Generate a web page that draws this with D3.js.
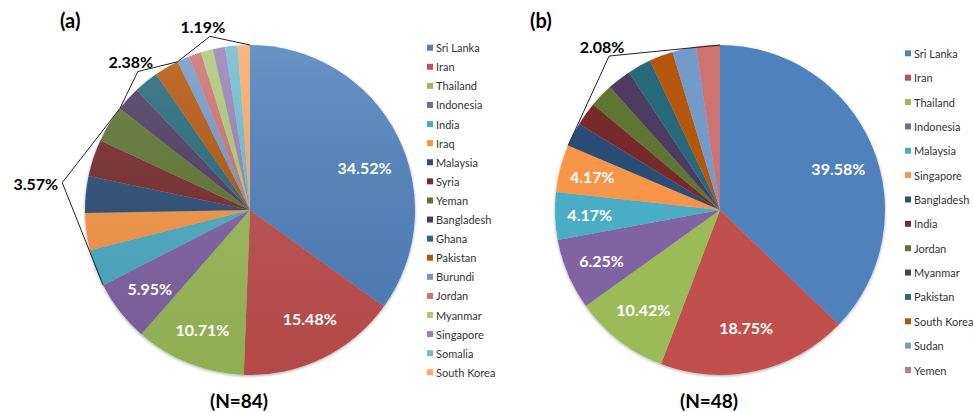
<!DOCTYPE html>
<html>
<head>
<meta charset="utf-8">
<script src="https://cdn.jsdelivr.net/npm/d3@7"></script>
<style>
	body { margin: 0; background: #fff; }
	text { font-family: Lato, "Open Sans", sans-serif; }
</style>
</head>
<body>
<div id="chart-area"></div>
<script>
// ---- data: chart (a), N=84 ----
const countriesA = ["Sri Lanka", "Iran", "Thailand", "Indonesia", "India", "Iraq", "Malaysia", "Syria",
	"Yeman", "Bangladesh", "Ghana", "Pakistan", "Burundi", "Jordan", "Myanmar", "Singapore", "Somalia", "South Korea"];
const countsA = [29, 13, 9, 5, 3, 3, 3, 3, 3, 2, 2, 2, 1, 1, 1, 1, 1, 1];
const insideLabelsA = ["34.52%", "15.48%", "10.71%", "5.95%"];
const groupLabelsA = ["3.57%", "2.38%", "1.19%"];
const groupFirstA = [4, 9, 12];
const groupLastA = [8, 11, 17];

// ---- data: chart (b), N=48 (slice sizes as drawn in the picture) ----
const countriesB = ["Sri Lanka", "Iran", "Thailand", "Indonesia", "Malaysia", "Singapore", "Bangladesh",
	"India", "Jordan", "Myanmar", "Pakistan", "South Korea", "Sudan", "Yemen"];
const slicesB = [16, 8, 4, 3, 2, 2, 1, 1, 1, 1, 1, 1, 1, 1];
const insideLabelsB = ["39.58%", "18.75%", "10.42%", "6.25%", "4.17%", "4.17%"];
const groupLabelsB = ["2.08%"];
const groupFirstB = [6];
const groupLastB = [13];

// office palette
const palette = ["#4F81BD", "#C0504D", "#9BBB59", "#8064A2", "#4BACC6", "#F79646", "#2C4D75", "#772C2A",
	"#5F7530", "#4D3B62", "#276A7C", "#B65708", "#729ACA", "#CD7371", "#AFC97A", "#9983B5", "#6FBDD1", "#F9AB6B"];

const width = 973;
const height = 412;

const svg = d3.select("#chart-area")
	.append("svg")
		.attr("width", width)
		.attr("height", height);

const defs = svg.append("defs");

const shadow = defs.append("filter")
	.attr("id", "shadow")
	.attr("x", "-10%").attr("y", "-10%")
	.attr("width", "120%").attr("height", "120%");
shadow.append("feDropShadow")
	.attr("dx", 0).attr("dy", 1)
	.attr("stdDeviation", 1.6)
	.attr("flood-color", "#000")
	.attr("flood-opacity", 0.35);

const shade = defs.append("linearGradient")
	.attr("id", "shade")
	.attr("x1", 0).attr("y1", 0).attr("x2", 0).attr("y2", 1);
shade.append("stop").attr("offset", "0%").attr("stop-color", "#fff").attr("stop-opacity", 0.14);
shade.append("stop").attr("offset", "100%").attr("stop-color", "#000").attr("stop-opacity", 0.07);

// draw one pie with its legend
const drawPie = (cfg) => {
	const R = cfg.radius;
	const g = svg.append("g")
		.attr("transform", `translate(${cfg.cx}, ${cfg.cy})`);

	const pie = d3.pie().sort(null).value((d) => d);
	const arcs = pie(cfg.values);
	const arc = d3.arc().innerRadius(0).outerRadius(R);

	const slices = g.append("g").attr("filter", "url(#shadow)");
	slices.selectAll("path")
		.data(arcs)
		.enter()
		.append("path")
			.attr("d", arc)
			.attr("fill", (d, i) => palette[i]);

	if (cfg.gradient) {
		g.append("circle")
			.attr("r", R)
			.attr("fill", "url(#shade)");
	}

	// point on a circle of radius r at angle a (clockwise from 12 o'clock)
	const pt = (a, r) => [r * Math.sin(a), -r * Math.cos(a)];
	const labelPos = (i) => pt((arcs[i].startAngle + arcs[i].endAngle) / 2 + cfg.labelShift[i], R * cfg.labelR[i]);

	// white labels inside the big slices
	g.selectAll("text.inside")
		.data(cfg.insideLabels)
		.enter()
		.append("text")
			.attr("class", "inside")
			.attr("x", (d, i) => labelPos(i)[0])
			.attr("y", (d, i) => labelPos(i)[1])
			.attr("text-anchor", "middle")
			.attr("dominant-baseline", "central")
			.attr("fill", "#fff")
			.attr("font-size", "16px")
			.attr("font-weight", "bold")
			.text((d) => d);

	// bracket callouts for groups of small slices
	cfg.groupLabels.forEach((label, k) => {
		const a0 = arcs[cfg.groupFirst[k]].startAngle;
		const a1 = arcs[cfg.groupLast[k]].endAngle;
		const anchor = pt((a0 + a1) / 2 + cfg.groupShift[k], R * cfg.groupR[k]);
		g.append("path")
			.attr("d", d3.line()([pt(a0, R), anchor, pt(a1, R)]))
			.attr("fill", "none")
			.attr("stroke", "#222")
			.attr("stroke-width", 1);
		const side = cfg.groupSide[k];
		g.append("text")
			.attr("x", side === "left" ? anchor[0] - 4 : anchor[0] - 7)
			.attr("y", side === "left" ? anchor[1] + 1 : anchor[1] - 10)
			.attr("text-anchor", side === "left" ? "end" : "middle")
			.attr("dominant-baseline", "central")
			.attr("fill", "#000")
			.attr("font-size", "16px")
			.attr("font-weight", "bold")
			.text(label);
	});

	// panel title and N
	svg.append("text")
		.attr("x", cfg.titleX)
		.attr("y", 20)
		.attr("dominant-baseline", "central")
		.attr("font-size", "20px")
		.attr("font-weight", "bold")
		.text(cfg.title);

	svg.append("text")
		.attr("x", cfg.cx - 11)
		.attr("y", 400)
		.attr("text-anchor", "middle")
		.attr("dominant-baseline", "central")
		.attr("font-size", "19px")
		.attr("font-weight", "bold")
		.text(cfg.n);

	// legend
	const yLegend = d3.scalePoint()
		.domain(cfg.names)
		.range(cfg.legendRange);

	const legend = svg.append("g")
		.attr("transform", `translate(${cfg.legendX}, 0)`);

	const items = legend.selectAll("g")
		.data(cfg.names)
		.enter()
		.append("g")
			.attr("transform", (d) => `translate(0, ${yLegend(d)})`);

	items.append("rect")
		.attr("x", 0)
		.attr("y", -3)
		.attr("width", 6)
		.attr("height", 6)
		.attr("fill", (d, i) => palette[i]);

	items.append("text")
		.attr("x", 9)
		.attr("y", 0)
		.attr("dominant-baseline", "central")
		.attr("font-size", "11px")
		.attr("fill", "#333")
		.text((d) => d);
};

drawPie({
	cx: 250, cy: 210, radius: 165,
	values: countsA,
	names: countriesA,
	insideLabels: insideLabelsA,
	labelR: [0.74, 0.75, 0.78, 0.77],
	labelShift: [0.12, -0.05, 0, 0],
	groupLabels: groupLabelsA,
	groupFirst: groupFirstA,
	groupLast: groupLastA,
	groupR: [1.15, 1.08, 1.08],
	groupShift: [0.05, 0.0, 0.0],
	groupSide: ["left", "top", "top"],
	gradient: true,
	title: "(a)", titleX: 60,
	n: "(N=84)",
	legendX: 427, legendRange: [47.7, 372.3]
});

drawPie({
	cx: 720, cy: 210, radius: 165,
	values: slicesB,
	names: countriesB,
	insideLabels: insideLabelsB,
	labelR: [0.76, 0.73, 0.76, 0.78, 0.79, 0.8],
	labelShift: [0.066, 0, 0, 0, 0, 0],
	groupLabels: groupLabelsB,
	groupFirst: groupFirstB,
	groupLast: groupLastB,
	groupR: [1.15],
	groupShift: [-0.04],
	groupSide: ["top"],
	gradient: false,
	title: "(b)", titleX: 530,
	n: "(N=48)",
	legendX: 905, legendRange: [53.3, 370]
});
</script>
</body>
</html>
